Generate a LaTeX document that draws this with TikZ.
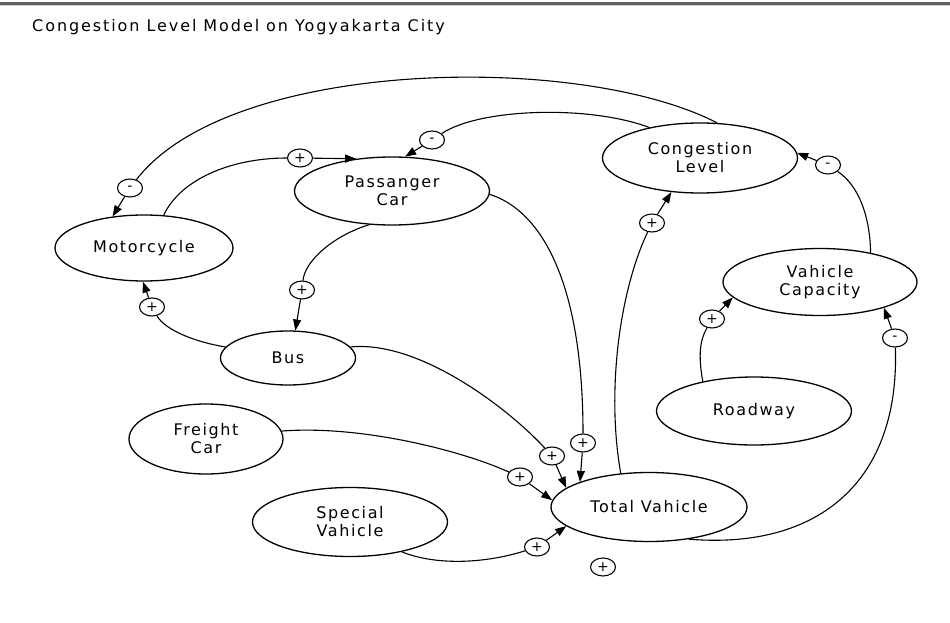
\documentclass[tikz,border=0pt]{standalone}
\usepackage{fontspec}
\setmainfont{DejaVu Sans}[LetterSpace=10]
\usetikzlibrary{arrows.meta,shapes.geometric}
\begin{document}
\begin{tikzpicture}[x=1pt,y=-1pt,
  var/.style={draw, ellipse, line width=1.3pt, inner sep=0pt, align=center,
              font=\fontsize{16}{18}\selectfont},
  pol/.style={draw, ellipse, line width=1.1pt, minimum width=25pt, minimum height=18pt,
              inner sep=0pt, font=\fontsize{14}{14}\selectfont},
  link/.style={line width=1.1pt},
  arr/.style={line width=1.1pt, -{Triangle[length=11pt,width=8pt]}}]
\useasboundingbox (0,0) rectangle (950,623);
% top rule
\fill[gray!75!black] (0,2) rectangle (950,5);
\fill[gray!40] (0,5) rectangle (950,6.5);
% title
\node[anchor=base west, inner sep=0pt, font=\addfontfeatures{LetterSpace=12}\fontsize{16}{18}\selectfont] (title) at (32,32)
  {Congestion Level Model on Yogyakarta City};
% variables
\node[var, minimum width=195pt, minimum height=70pt] (cl) at (700,158) {Congestion\\Level};
\node[var, minimum width=195pt, minimum height=68pt] (pc) at (392,191) {Passanger\\Car};
\node[var, minimum width=178pt, minimum height=66pt] (mc) at (144,248) {Motorcycle};
\node[var, minimum width=135pt, minimum height=54pt] (bus) at (288,358) {Bus};
\node[var, minimum width=154pt, minimum height=70pt] (fc) at (206,439) {Freight\\Car};
\node[var, minimum width=195pt, minimum height=69pt] (sv) at (350,522) {Special\\Vahicle};
\node[var, minimum width=196pt, minimum height=69pt] (tv) at (649,507) {Total Vahicle};
\node[var, minimum width=195pt, minimum height=68pt] (rw) at (754,411) {Roadway};
\node[var, minimum width=194pt, minimum height=67pt] (vc) at (820,282) {Vahicle\\Capacity};
% polarity markers
\node[pol] (p1) at (130,188) {-};
\node[pol] (p2) at (432,140) {-};
\node[pol] (p3) at (300,158) {+};
\node[pol] (p4) at (302,290) {+};
\node[pol] (p5) at (152,307) {+};
\node[pol] (p6) at (652,223) {+};
\node[pol] (p7) at (828,165) {-};
\node[pol] (p8) at (712,319) {+};
\node[pol] (p9) at (895,338) {-};
\node[pol] (p10) at (583,443) {+};
\node[pol] (p11) at (552,456) {+};
\node[pol] (p12) at (520,477) {+};
\node[pol] (p13) at (537,547) {+};
\node[pol] (p14) at (603,567) {+};
% connectors
\draw[link] (cl.64) .. controls (580,52) and (230,58) .. (p1);
\draw[arr] (p1) -- (mc.135);
\draw[link] (cl.149) .. controls (590,105) and (480,108) .. (p2);
\draw[arr] (p2) -- (pc.69);
\draw[link] (mc.59) .. controls (180,180) and (230,158) .. (p3);
\draw[arr] (p3) -- (pc.138);
\draw[link] (pc.236) .. controls (335,235) and (305,260) .. (p4);
\draw[arr] (p4) -- (bus.75);
\draw[link] (bus.170) .. controls (195,342) and (165,330) .. (p5);
\draw[arr] (p5) -- (mc.268);
\draw[link] (pc.358) .. controls (540,210) and (583,280) .. (p10);
\draw[arr] (p10) -- (tv.160);
\draw[link] (bus.10) .. controls (420,340) and (510,410) .. (p11);
\draw[arr] (p11) -- (tv.167);
\draw[link] (fc.6) .. controls (360,425) and (460,450) .. (p12);
\draw[arr] (p12) -- (tv.176);
\draw[link] (sv.330) .. controls (440,567) and (490,562) .. (p13);
\draw[arr] (p13) -- (tv.193);
\draw[link] (tv.130) .. controls (606,390) and (620,290) .. (p6);
\draw[arr] (p6) -- (cl.230);
\draw[link] (tv.321) .. controls (820,550) and (900,480) .. (p9);
\draw[arr] (p9) -- (vc.338);
\draw[link] (rw.150) .. controls (698,355) and (700,340) .. (p8);
\draw[arr] (p8) -- (vc.190);
\draw[link] (vc.30) .. controls (870,215) and (858,185) .. (p7);
\draw[arr] (p7) -- (cl.3);
\end{tikzpicture}
\end{document}
